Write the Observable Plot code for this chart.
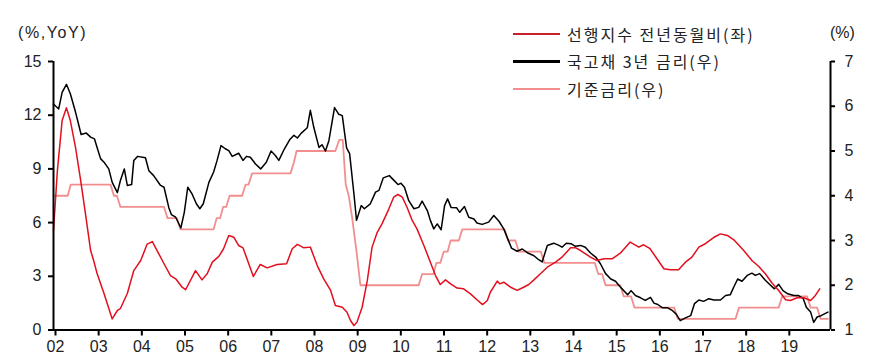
<!DOCTYPE html>
<html><head><meta charset="utf-8">
<script src="https://cdn.jsdelivr.net/npm/d3@7"></script>
<script src="https://cdn.jsdelivr.net/npm/@observablehq/plot@0.6"></script>
<style>
body{margin:0;background:#fff;}
#wrap{position:relative;width:887px;height:364px;font-family:"Liberation Sans",Arial,"Noto Sans CJK KR",sans-serif;color:#222;}
.ttl{position:absolute;font-size:16px;line-height:20px;top:23px;white-space:nowrap;}
.legrow{position:absolute;left:513px;height:20px;display:flex;align-items:center;white-space:nowrap;}
.legrow span.sw{display:inline-block;width:47px;margin-right:7px;}
.legrow span.tx{font-family:"Noto Sans CJK KR",sans-serif;font-size:16px;letter-spacing:2px;color:#222;}
</style></head>
<body>
<div id="wrap">
  <div class="ttl" style="left:18px;letter-spacing:1.6px;">(%,YoY)</div>
  <div class="ttl" style="left:830px;">(%)</div>
  <div id="legend"></div>
  <div id="chart"></div>
</div>
<script>
// ---- data ----
const seriesNames = ["선행지수 전년동월비(좌)", "국고채 3년 금리(우)", "기준금리(우)"];
const yearTicks = [2002,2003,2004,2005,2006,2007,2008,2009,2010,2011,2012,2013,2014,2015,2016,2017,2018,2019];
const leftTicks = [0,3,6,9,12,15];
const rightTicks = [1,2,3,4,5,6,7];

// Leading index YoY (left axis, %)
const leadT = [2002.00,2002.09,2002.20,2002.30,2002.39,2002.51,2002.63,2002.74,2002.86,2002.93,2003.01,2003.17,2003.36,2003.48,2003.55,2003.71,2003.86,2004.02,2004.17,2004.29,2004.40,2004.56,2004.71,2004.83,2004.98,2005.06,2005.29,2005.44,2005.56,2005.68,2005.83,2005.94,2006.06,2006.18,2006.29,2006.39,2006.63,2006.79,2006.95,2007.18,2007.40,2007.53,2007.65,2007.80,2007.95,2008.11,2008.26,2008.42,2008.53,2008.69,2008.80,2008.88,2008.96,2009.03,2009.15,2009.27,2009.38,2009.50,2009.61,2009.77,2009.88,2009.98,2010.08,2010.19,2010.31,2010.42,2010.58,2010.73,2010.85,2010.96,2011.08,2011.20,2011.35,2011.50,2011.66,2011.81,2011.94,2012.05,2012.12,2012.28,2012.34,2012.43,2012.59,2012.74,2012.89,2013.01,2013.13,2013.28,2013.44,2013.63,2013.78,2013.98,2014.09,2014.21,2014.44,2014.59,2014.75,2014.94,2015.13,2015.36,2015.56,2015.67,2015.82,2015.98,2016.14,2016.29,2016.48,2016.64,2016.79,2016.95,2017.10,2017.30,2017.45,2017.61,2017.76,2017.99,2018.18,2018.34,2018.49,2018.65,2018.80,2018.96,2019.07,2019.23,2019.38,2019.54,2019.65,2019.75];
const leadV = [5.56,8.9,11.7,12.41,11.7,10.2,8.35,6.5,4.44,3.88,3.15,2.04,0.62,1.09,1.2,2.04,3.32,3.88,4.8,4.94,4.44,3.7,3.04,2.86,2.39,2.25,3.32,2.80,3.14,3.79,4.11,4.54,5.28,5.18,4.72,4.59,2.99,3.66,3.47,3.66,3.70,4.54,4.78,4.59,4.63,3.60,2.86,2.21,1.37,1.27,0.99,0.53,0.25,0.44,1.27,2.77,4.63,5.46,5.93,6.77,7.42,7.57,7.42,6.86,6.12,5.65,4.72,3.79,3.04,2.54,2.80,2.58,2.34,2.30,2.02,1.69,1.42,1.65,2.11,2.73,2.58,2.67,2.39,2.21,2.39,2.54,2.80,3.14,3.51,3.79,4.07,4.6,4.6,4.44,4.07,3.88,3.98,3.98,4.29,4.91,4.63,4.76,4.54,3.98,3.42,3.36,3.36,3.79,4.07,4.63,4.82,5.18,5.37,5.28,5.04,4.44,3.88,3.55,3.14,2.61,2.21,1.69,1.65,1.80,1.80,1.65,1.93,2.30];

// 3-year treasury yield (right axis, %)
const ktbT = [2002.00,2002.12,2002.20,2002.30,2002.39,2002.51,2002.64,2002.76,2002.86,2002.95,2003.01,2003.09,2003.17,2003.28,2003.36,2003.48,2003.55,2003.64,2003.71,2003.81,2003.86,2003.95,2004.13,2004.21,2004.32,2004.48,2004.56,2004.67,2004.73,2004.83,2004.95,2005.03,2005.11,2005.21,2005.31,2005.39,2005.47,2005.60,2005.71,2005.79,2005.88,2005.98,2006.06,2006.14,2006.29,2006.39,2006.47,2006.56,2006.68,2006.80,2006.93,2007.04,2007.14,2007.22,2007.35,2007.47,2007.57,2007.65,2007.74,2007.88,2007.95,2008.03,2008.15,2008.22,2008.30,2008.38,2008.51,2008.61,2008.69,2008.79,2008.86,2008.96,2009.02,2009.13,2009.20,2009.34,2009.46,2009.54,2009.64,2009.78,2009.87,2009.98,2010.05,2010.13,2010.23,2010.35,2010.46,2010.54,2010.66,2010.73,2010.81,2010.89,2010.98,2011.06,2011.13,2011.21,2011.34,2011.41,2011.52,2011.62,2011.74,2011.81,2011.93,2012.08,2012.20,2012.32,2012.43,2012.51,2012.61,2012.74,2012.86,2012.99,2013.13,2013.24,2013.32,2013.44,2013.59,2013.71,2013.78,2013.88,2013.99,2014.09,2014.21,2014.32,2014.44,2014.56,2014.67,2014.79,2014.91,2015.02,2015.12,2015.21,2015.30,2015.38,2015.48,2015.60,2015.71,2015.83,2015.91,2016.00,2016.10,2016.22,2016.33,2016.43,2016.52,2016.64,2016.76,2016.85,2016.95,2017.06,2017.18,2017.30,2017.45,2017.57,2017.68,2017.76,2017.85,2017.95,2018.07,2018.18,2018.26,2018.36,2018.49,2018.61,2018.70,2018.80,2018.90,2019.01,2019.15,2019.26,2019.37,2019.44,2019.54,2019.61,2019.69,2019.78,2019.94];
const ktbV = [6.05,5.94,6.31,6.49,6.28,5.87,5.37,5.40,5.31,5.27,5.08,4.83,4.75,4.60,4.30,4.07,4.34,4.60,4.23,4.25,4.79,4.88,4.85,4.56,4.45,4.23,4.19,3.74,3.58,3.52,3.28,3.63,4.19,4.04,3.82,3.71,3.82,4.30,4.53,4.79,5.12,5.05,5.01,4.88,4.95,4.79,4.88,4.86,4.71,4.60,4.75,5.00,4.90,4.79,5.05,5.25,5.35,5.29,5.40,5.52,5.91,5.53,5.08,5.14,5.00,5.23,5.97,5.82,5.79,5.07,4.94,4.04,3.45,3.78,3.71,3.82,4.08,4.12,4.40,4.45,4.36,4.25,4.28,4.19,3.89,3.71,3.74,3.88,3.67,3.45,3.26,3.37,3.24,3.78,3.93,3.74,3.73,3.63,3.76,3.52,3.48,3.39,3.36,3.41,3.56,3.43,3.26,3.07,2.83,2.76,2.81,2.72,2.66,2.57,2.52,2.89,2.94,2.89,2.85,2.94,2.93,2.87,2.89,2.85,2.72,2.63,2.48,2.26,2.14,2.09,1.97,1.88,1.79,1.88,1.77,1.72,1.66,1.73,1.60,1.57,1.50,1.50,1.44,1.35,1.21,1.27,1.32,1.59,1.67,1.64,1.70,1.67,1.67,1.77,1.79,1.96,2.14,2.09,2.22,2.27,2.22,2.26,2.11,2.00,1.92,2.02,1.88,1.81,1.77,1.77,1.70,1.51,1.40,1.17,1.29,1.32,1.40];

// Base rate (right axis, %)
const baseT = [2002.00,2002.33,2002.40,2003.32,2003.40,2003.47,2003.55,2004.56,2004.64,2004.86,2004.94,2005.71,2005.78,2005.86,2005.93,2006.00,2006.08,2006.37,2006.45,2006.52,2006.60,2007.49,2007.57,2007.63,2008.53,2008.62,2008.70,2008.77,2008.84,2008.92,2009.02,2009.11,2010.46,2010.54,2010.80,2010.87,2010.96,2011.04,2011.13,2011.20,2011.39,2011.47,2012.45,2012.53,2012.70,2012.78,2013.29,2013.37,2014.54,2014.62,2014.71,2014.79,2015.13,2015.21,2015.38,2015.46,2016.38,2016.46,2017.80,2017.88,2018.80,2018.88,2019.46,2019.54,2019.69,2019.77,2019.94];
const baseV = [4.00,4.00,4.25,4.25,4.00,4.00,3.75,3.75,3.50,3.50,3.25,3.25,3.50,3.50,3.75,3.75,4.00,4.00,4.25,4.25,4.50,4.50,4.75,5.00,5.00,5.25,5.25,4.25,4.00,3.50,2.75,2.00,2.00,2.25,2.25,2.50,2.50,2.75,2.75,3.00,3.00,3.25,3.25,3.00,3.00,2.75,2.75,2.50,2.50,2.25,2.25,2.00,2.00,1.75,1.75,1.50,1.50,1.25,1.25,1.50,1.50,1.75,1.75,1.50,1.50,1.25,1.25];

const colors = ["#e2101e", "#000000", "#f28e8e"];
const legendColors = ["#c8202a", "#000000", "#f28e8e"];

// ---- build ----
const toLeft = v => (v - 1) * 2.5;   // right axis 1..7 -> left scale 0..15
const lead = leadT.map((t, i) => ({t, v: leadV[i]}));
const ktb = ktbT.map((t, i) => ({t, v: toLeft(ktbV[i])}));
const base = baseT.map((t, i) => ({t, v: toLeft(baseV[i])}));

const font = '"Liberation Sans", Arial, "Noto Sans CJK KR", sans-serif';
const chart = Plot.plot({
  width: 887, height: 364,
  marginLeft: 53, marginRight: 57, marginTop: 61, marginBottom: 34.5,
  x: {domain: [2002, 2020]},
  y: {domain: [0, 15]},
  style: {fontFamily: font, fontSize: "16px", color: "#222", background: "transparent", overflow: "visible"},
  marks: [
    Plot.line(base, {x: "t", y: "v", stroke: colors[2], strokeWidth: 1.8}),
    Plot.line(ktb, {x: "t", y: "v", stroke: colors[1], strokeWidth: 1.5}),
    Plot.line(lead, {x: "t", y: "v", stroke: colors[0], strokeWidth: 1.5}),
    Plot.ruleX([2002], {stroke: "#000", strokeWidth: 2}),
    Plot.ruleX([2020], {stroke: "#000", strokeWidth: 2}),
    Plot.ruleY([0], {stroke: "#000", strokeWidth: 2}),
    Plot.axisX({ticks: yearTicks, tickFormat: d => String(d % 100).padStart(2, "0"), tickSize: 6, tickPadding: 5, strokeWidth: 2, stroke: "#000", fill: "#222", label: null, dx: 2}),
    Plot.axisY({ticks: leftTicks, tickSize: 5, tickPadding: 7, strokeWidth: 2, stroke: "#000", fill: "#222", label: null}),
    Plot.axisY({anchor: "right", ticks: rightTicks.map(toLeft), tickFormat: d => d / 2.5 + 1, tickSize: 4, tickPadding: 10, strokeWidth: 2, stroke: "#000", fill: "#222", label: null})
  ]
});
document.getElementById("chart").appendChild(chart);

const legTops = [24, 51, 79];
const legWidths = [2, 3.5, 2];
const leg = document.getElementById("legend");
seriesNames.forEach((name, i) => {
  const row = document.createElement("div");
  row.className = "legrow";
  row.style.top = legTops[i] + "px";
  row.innerHTML = `<span class="sw" style="border-top:${legWidths[i]}px solid ${legendColors[i]}"></span><span class="tx">${name}</span>`;
  leg.appendChild(row);
});
</script>
</body></html>
